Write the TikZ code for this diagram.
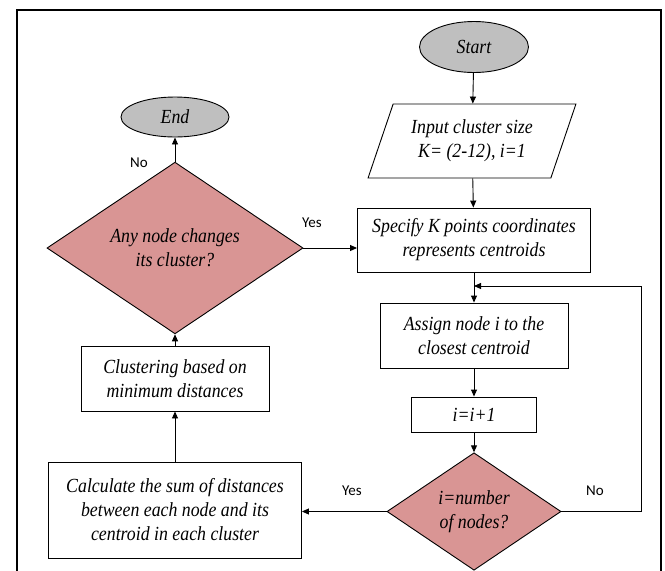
\documentclass[tikz,border=0pt]{standalone}
\usepackage{fontspec}
\setmainfont[FakeStretch=0.89]{Liberation Serif}
\newfontfamily\yesnofont{Carlito}
\usetikzlibrary{arrows.meta}
\usetikzlibrary{shapes.geometric}
\definecolor{termgray}{RGB}{191,191,191}
\definecolor{decpink}{RGB}{217,149,148}

\begin{document}
\begin{tikzpicture}[x=1pt,y=-1pt]
  \tikzset{box/.style = {shape=rectangle,draw,fill=white,align=center,inner sep=1pt,line width=0.9pt,font=\fontsize{20}{24}\selectfont\itshape}}
  \tikzset{term/.style = {box,shape=ellipse,fill=termgray}}
  \tikzset{io/.style = {box,shape=trapezium,trapezium left angle=66,trapezium right angle=114,trapezium stretches=true}}
  \tikzset{decision/.style = {box,shape=diamond,fill=decpink}}
  \tikzset{yesno/.style = {font=\fontsize{15}{17}\selectfont\yesnofont}}
  \tikzset{arr/.style = {-{Triangle[length=7pt,width=6pt]},line width=0.9pt}}

  \useasboundingbox (0,0) rectangle (665,571);
  \draw[line width=1.3pt] (17,571) -- (17,10) -- (661,10) -- (661,571);

	\node[term,minimum width=109,minimum height=51] (start) at (474,47) {Start};
	\node[io,minimum width=208,minimum height=74] (input) at (472,141) {Input cluster size\\K= (2-12), i=1};
	\node[box,minimum width=233,minimum height=64] (spec) at (474,240) {Specify K points coordinates\\represents centroids};
	\node[box,minimum width=188,minimum height=65] (assign) at (474,335.5) {Assign node i to the\\closest centroid};
	\node[box,minimum width=125,minimum height=35] (incr) at (474,414.5) {i=i+1};
	\node[decision,minimum width=174,minimum height=109] (check) at (474,511.5) {i=number\\of nodes?};
	\node[box,minimum width=253,minimum height=96] (calc) at (175,510) {Calculate the sum of distances\\between each node and its\\centroid in each cluster};
	\node[box,minimum width=188,minimum height=65] (clust) at (175,378.5) {Clustering based on\\minimum distances};
	\node[decision,minimum width=256,minimum height=110] (change) at (175,248) {Any node changes\\its cluster?};
	\node[term,minimum width=108,minimum height=40] (end) at (175,117) {End};

	\coordinate (loop) at (641,286);
	\coordinate (join) at (474,286);

       \foreach \from/\to in {start/input,input/spec,spec/assign,assign/incr,incr/check,calc/clust,clust/change,change/end}
    \draw[arr] (\from) -- (\to);
	\draw[arr] (change.east) -- (change.east -| spec.west);
	\draw[arr] (check.west) -- (check.west -| calc.east);
	\draw[arr] (check.east) -| (loop) -- (join);

	\node[yesno] (no1) at (139,163) {No};
	\node[yesno] (yes1) at (312,223) {Yes};
	\node[yesno] (yes2) at (352,491) {Yes};
	\node[yesno] (no2) at (595,491) {No};
\end{tikzpicture}
\end{document}
